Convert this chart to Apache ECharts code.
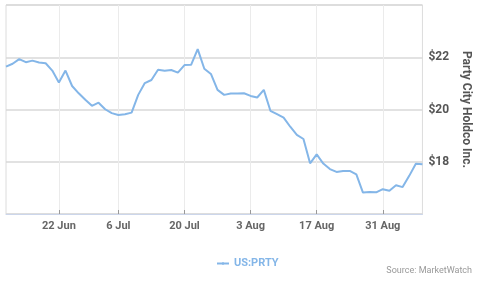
<!DOCTYPE html>
<html>
<head>
<meta charset="utf-8">
<script src="https://cdn.jsdelivr.net/npm/echarts@6/dist/echarts.min.js"></script>
<style>html,body{margin:0;padding:0;background:#fff}#c{width:480px;height:283px}</style>
</head>
<body>
<div id="c"></div>
<script>
const dates = [
 '10 Jun','11 Jun','12 Jun','15 Jun','16 Jun','17 Jun','18 Jun','19 Jun','22 Jun','23 Jun','24 Jun','25 Jun','26 Jun','29 Jun','30 Jun',
 '1 Jul','2 Jul','6 Jul','7 Jul','8 Jul','9 Jul','10 Jul','13 Jul','14 Jul','15 Jul','16 Jul','17 Jul','20 Jul','21 Jul','22 Jul','23 Jul','24 Jul','27 Jul','28 Jul','29 Jul','30 Jul','31 Jul',
 '3 Aug','4 Aug','5 Aug','6 Aug','7 Aug','10 Aug','11 Aug','12 Aug','13 Aug','14 Aug','17 Aug','18 Aug','19 Aug','20 Aug','21 Aug','24 Aug','25 Aug','26 Aug','27 Aug','28 Aug','31 Aug',
 '1 Sep','2 Sep','3 Sep','4 Sep','8 Sep','9 Sep'
];
const prices = [
 21.64,21.75,21.93,21.81,21.87,21.80,21.77,21.49,21.03,21.49,20.90,20.62,20.37,20.14,20.26,
 20.01,19.86,19.79,19.82,19.88,20.56,21.01,21.13,21.52,21.48,21.51,21.41,21.70,21.71,22.31,21.56,21.36,20.75,20.56,20.61,20.61,20.62,
 20.52,20.46,20.75,19.95,19.82,19.69,19.34,19.03,18.87,17.94,18.28,17.93,17.72,17.61,17.65,17.65,17.52,16.82,16.84,16.83,
 16.95,16.89,17.10,17.03,17.46,17.92,17.90
];
const tickLabels = ['22 Jun','6 Jul','20 Jul','3 Aug','17 Aug','31 Aug'];
const seriesName = 'US:PRTY';
const axisName = 'Party City Holdco Inc.';
const sourceText = 'Source: MarketWatch';

const showTick = (i) => tickLabels.indexOf(dates[i]) >= 0;
const chart = echarts.init(document.getElementById('c'));
chart.setOption({
  animation: false,
  textStyle: { fontFamily: 'Roboto' },
  grid: { left: 6, top: 5, right: 56, bottom: 69, show: true, borderColor: '#dcdcdc', borderWidth: 1 },
  xAxis: {
    type: 'category', data: dates, boundaryGap: false,
    axisLine: { lineStyle: { color: '#ccd6eb', width: 1 } },
    axisTick: { show: true, inside: true, length: 4, interval: (i) => showTick(i), lineStyle: { color: '#999' } },
    axisLabel: { interval: (i) => showTick(i), color: '#666', fontSize: 11, fontWeight: 'bold', margin: 7 },
    splitLine: { show: true, interval: (i) => showTick(i), lineStyle: { color: '#ebebeb', width: 1 } }
  },
  yAxis: {
    type: 'value', position: 'right', min: 16, max: 24, interval: 2,
    axisLine: { show: false }, axisTick: { show: false },
    axisLabel: { formatter: (v) => '$' + v, showMinLabel: false, showMaxLabel: false, color: '#555', fontSize: 12, fontWeight: 'bold', margin: 6 },
    splitLine: { lineStyle: { color: '#d9d9d9', width: 1.5 } },
    name: axisName, nameLocation: 'middle', nameRotate: -90, nameGap: 37,
    nameTextStyle: { color: '#555', fontSize: 12, fontWeight: 'bold' }
  },
  legend: {
    data: [seriesName], left: 211, top: 253, itemWidth: 12, itemHeight: 3, itemGap: 6,
    textStyle: { color: '#84b6e8', fontSize: 11, fontWeight: 'bold' }
  },
  graphic: [{ type: 'text', right: 8, top: 266, style: { text: sourceText, fill: '#999', fontSize: 9, fontFamily: 'Roboto' } }],
  series: [{
    name: seriesName, type: 'line', data: prices, symbol: 'none',
    lineStyle: { color: '#84b6e8', width: 2 }, itemStyle: { color: '#84b6e8' }
  }]
});
</script>
</body>
</html>
